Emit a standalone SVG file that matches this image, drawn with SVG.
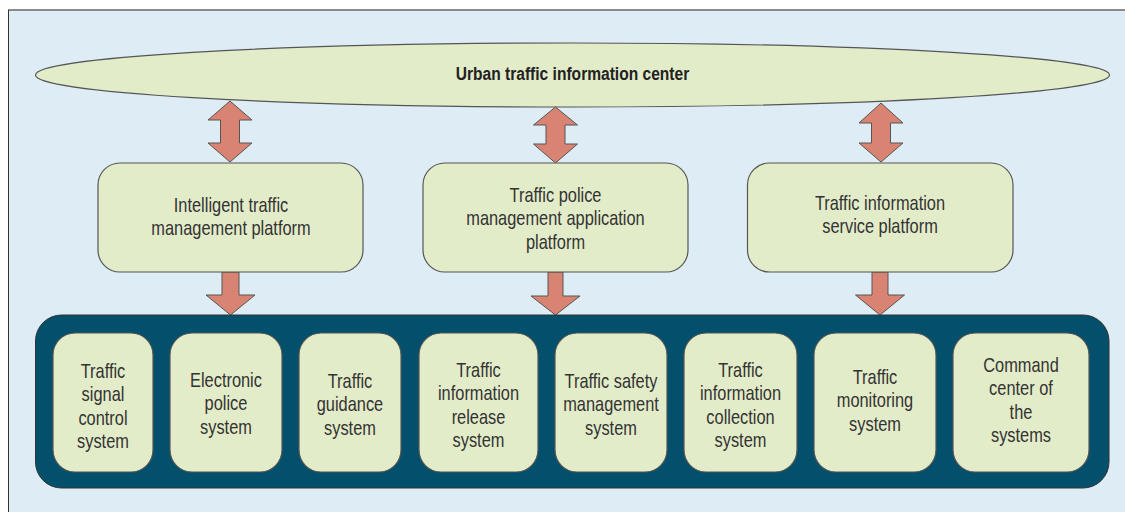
<svg xmlns="http://www.w3.org/2000/svg" width="1125" height="512" viewBox="0 0 1125 512">
<style>
.t{font-family:"Liberation Sans Narrow","Liberation Sans",Arial,sans-serif;font-size:20px;fill:#333;text-anchor:middle}
.tb{font-weight:bold;font-size:19px;fill:#222}
.box{fill:#e3ecc9;stroke:#555;stroke-width:1.2}
.arr{fill:#d98472;stroke:#555;stroke-width:1}
</style>
<rect x="0" y="0" width="1125" height="512" fill="#ffffff"/>
<rect x="8" y="10" width="1120" height="505" fill="#deedf5"/>
<line x1="8" y1="10" x2="1125" y2="10" stroke="#8a8a8a" stroke-width="2"/>
<line x1="8.5" y1="10" x2="8.5" y2="512" stroke="#333" stroke-width="1"/>

<g id="center">
<ellipse class="box" cx="572.5" cy="75" rx="537" ry="32"/>
<g transform="matrix(0.82 0 0 1 103.05 0)"><text class="t tb" x="572.5" y="80">Urban traffic information center</text></g>
</g>

<g id="connectors">
<path class="arr" d="M230,101 L252,120 L239.5,120 L239.5,143 L252,143 L230,162 L208,143 L220.5,143 L220.5,120 L208,120 Z"/>
<path class="arr" d="M555.5,107 L577.5,125 L565,125 L565,144 L577.5,144 L555.5,163 L533.5,144 L546,144 L546,125 L533.5,125 Z"/>
<path class="arr" d="M881,103 L903,123 L890.5,123 L890.5,143 L903,143 L881,162 L859,143 L871.5,143 L871.5,123 L859,123 Z"/>
<path class="arr" d="M222,272 L239,272 L239,295 L255,295 L230.5,315 L206,295 L222,295 Z"/>
<path class="arr" d="M548,272 L563,272 L563,296 L580,296 L555.5,315 L531,296 L548,296 Z"/>
<path class="arr" d="M872,272 L888,272 L888,295 L904.5,295 L880,315 L855.5,295 L872,295 Z"/>
</g>

<g id="platform1">
<rect class="box" x="98" y="163" width="265" height="109" rx="22"/>
<g transform="matrix(0.82 0 0 1 41.58 0)">
<text class="t" x="231" y="212">Intelligent traffic</text>
<text class="t" x="231" y="235.5">management platform</text>
</g>
</g>
<g id="platform2">
<rect class="box" x="423" y="163" width="265" height="109" rx="22"/>
<g transform="matrix(0.82 0 0 1 99.99 0)">
<text class="t" x="555.5" y="202">Traffic police</text>
<text class="t" x="555.5" y="225.5">management application</text>
<text class="t" x="555.5" y="249">platform</text>
</g>
</g>
<g id="platform3">
<rect class="box" x="747.5" y="163" width="265.5" height="109" rx="22"/>
<g transform="matrix(0.82 0 0 1 158.4 0)">
<text class="t" x="880" y="210">Traffic information</text>
<text class="t" x="880" y="233.5">service platform</text>
</g>
</g>

<g id="systems">
<rect x="35.5" y="315" width="1073.5" height="173" rx="26" fill="#02506b" stroke="#333" stroke-width="1"/>
</g>

<g id="s1">
<rect class="box" x="53" y="333" width="100" height="139" rx="22"/>
<g transform="matrix(0.82 0 0 1 18.54 0)">
<text class="t" x="103" y="378">Traffic</text>
<text class="t" x="103" y="401.5">signal</text>
<text class="t" x="103" y="425">control</text>
<text class="t" x="103" y="448.5">system</text>
</g>
</g>
<g id="s2">
<rect class="box" x="170" y="333" width="112" height="139" rx="22"/>
<g transform="matrix(0.82 0 0 1 40.68 0)">
<text class="t" x="226" y="387">Electronic</text>
<text class="t" x="226" y="410.5">police</text>
<text class="t" x="226" y="434">system</text>
</g>
</g>
<g id="s3">
<rect class="box" x="299" y="333" width="102" height="139" rx="22"/>
<g transform="matrix(0.82 0 0 1 63 0)">
<text class="t" x="350" y="388">Traffic</text>
<text class="t" x="350" y="411.5">guidance</text>
<text class="t" x="350" y="435">system</text>
</g>
</g>
<g id="s4">
<rect class="box" x="419" y="333" width="119" height="139" rx="22"/>
<g transform="matrix(0.82 0 0 1 86.13 0)">
<text class="t" x="478.5" y="377">Traffic</text>
<text class="t" x="478.5" y="400.5">information</text>
<text class="t" x="478.5" y="424">release</text>
<text class="t" x="478.5" y="447.5">system</text>
</g>
</g>
<g id="s5">
<rect class="box" x="555" y="333" width="112" height="139" rx="22"/>
<g transform="matrix(0.82 0 0 1 109.98 0)">
<text class="t" x="611" y="388">Traffic safety</text>
<text class="t" x="611" y="411.5">management</text>
<text class="t" x="611" y="435">system</text>
</g>
</g>
<g id="s6">
<rect class="box" x="684" y="333" width="113" height="139" rx="22"/>
<g transform="matrix(0.82 0 0 1 133.29 0)">
<text class="t" x="740.5" y="377">Traffic</text>
<text class="t" x="740.5" y="400.5">information</text>
<text class="t" x="740.5" y="424">collection</text>
<text class="t" x="740.5" y="447.5">system</text>
</g>
</g>
<g id="s7">
<rect class="box" x="814" y="333" width="122" height="139" rx="22"/>
<g transform="matrix(0.82 0 0 1 157.5 0)">
<text class="t" x="875" y="384">Traffic</text>
<text class="t" x="875" y="407.5">monitoring</text>
<text class="t" x="875" y="431">system</text>
</g>
</g>
<g id="s8">
<rect class="box" x="953" y="333" width="136" height="139" rx="22"/>
<g transform="matrix(0.82 0 0 1 183.78 0)">
<text class="t" x="1021" y="372">Command</text>
<text class="t" x="1021" y="395.5">center of</text>
<text class="t" x="1021" y="419">the</text>
<text class="t" x="1021" y="442.5">systems</text>
</g>
</g>
</svg>
